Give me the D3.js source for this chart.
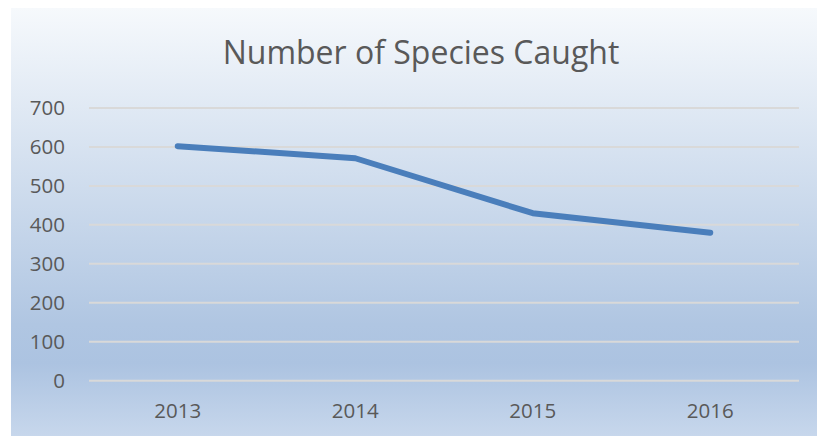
<!DOCTYPE html>
<html>
<head>
<meta charset="utf-8">
<script src="https://cdn.jsdelivr.net/npm/d3@7"></script>
<style>
  html, body { margin: 0; padding: 0; background: #fff; }
  svg { display: block; }
</style>
</head>
<body>
<div id="viz"></div>
<script>
const width = 817;
const height = 436;
const margin = {top: 108, right: 18, bottom: 56, left: 89};

// chart values
const years = ['2013', '2014', '2015', '2016'];
const species = [602, 571, 430, 380];
const yTicks = [0, 100, 200, 300, 400, 500, 600, 700];
const title = 'Number of Species Caught';

const data = years.map((year, i) => ({year, value: species[i]}));

const svg = d3.select('#viz')
  .append('svg')
    .attr('width', width)
    .attr('height', height);

// background gradient, like the office light gradient
const defs = svg.append('defs');
const grad = defs.append('linearGradient')
  .attr('id', 'bg')
  .attr('x1', 0).attr('y1', 0)
  .attr('x2', 0).attr('y2', 1);
grad.append('stop').attr('offset', '0%').attr('stop-color', '#f6f9fc');
grad.append('stop').attr('offset', '74%').attr('stop-color', '#b0c6e2');
grad.append('stop').attr('offset', '83%').attr('stop-color', '#acc3e1');
grad.append('stop').attr('offset', '100%').attr('stop-color', '#c7d7ec');

svg.append('rect')
  .attr('x', 11)
  .attr('y', 8)
  .attr('width', width - 11)
  .attr('height', height - 8)
  .attr('fill', 'url(#bg)');

// scales
const scaleX = d3.scaleBand()
  .domain(years)
  .range([margin.left, width - margin.right]);

const scaleY = d3.scaleLinear()
  .domain([0, 700])
  .range([height - margin.bottom + 0.7, margin.top]);

// gridlines
svg.append('g')
  .attr('class', 'grid')
  .selectAll('line')
  .data(yTicks)
  .join('line')
    .attr('x1', margin.left)
    .attr('x2', width - margin.right)
    .attr('y1', d => scaleY(d))
    .attr('y2', d => scaleY(d))
    .attr('stroke', '#d9d9d9')
    .attr('stroke-width', 2);

// y axis labels
const axisLeft = d3.axisLeft(scaleY)
  .tickValues(yTicks)
  .tickSize(0)
  .tickPadding(24);
svg.append('g')
  .attr('transform', `translate(${margin.left},0)`)
  .call(axisLeft)
  .call(g => g.select('.domain').remove())
  .call(g => g.selectAll('text')
    .attr('fill', '#595959')
    .style('font-family', '"Open Sans", sans-serif')
    .style('font-size', '20.5px'));

// x axis labels
const axisBottom = d3.axisBottom(scaleX)
  .tickSize(0)
  .tickPadding(23);
svg.append('g')
  .attr('transform', `translate(0,${scaleY(0)})`)
  .call(axisBottom)
  .call(g => g.select('.domain').remove())
  .call(g => g.selectAll('text')
    .attr('fill', '#595959')
    .style('font-family', '"Open Sans", sans-serif')
    .style('font-size', '20.5px'));

// the line
const line = d3.line()
  .x(d => scaleX(d.year) + scaleX.bandwidth() / 2)
  .y(d => scaleY(d.value));

svg.append('path')
  .datum(data)
  .attr('d', line)
  .attr('fill', 'none')
  .attr('stroke', '#4a7ebb')
  .attr('stroke-width', 6)
  .attr('stroke-linecap', 'round')
  .attr('stroke-linejoin', 'round');

// title
svg.append('text')
  .attr('x', 421)
  .attr('y', 64)
  .attr('text-anchor', 'middle')
  .attr('fill', '#595959')
  .style('font-family', '"Open Sans", sans-serif')
  .style('font-size', '32px')
  .text(title);
</script>
</body>
</html>
